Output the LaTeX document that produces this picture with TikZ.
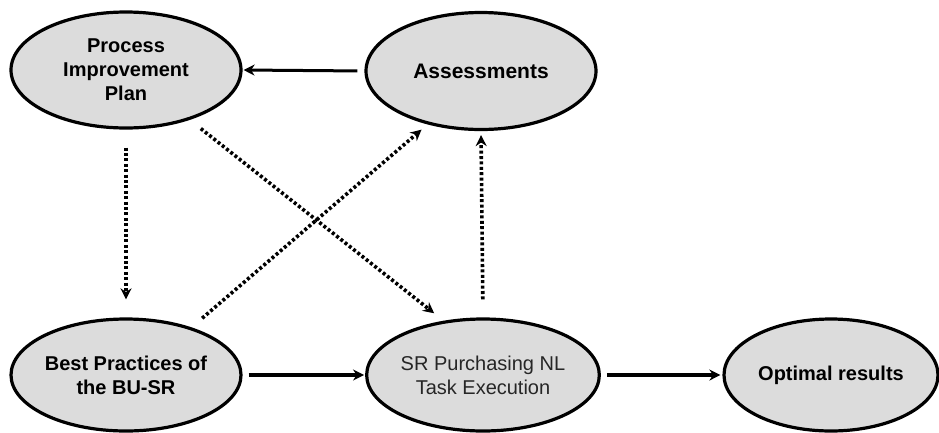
\documentclass[tikz,border=0pt]{standalone}
\usepackage{fontspec}
\setmainfont{Liberation Sans}
\usetikzlibrary{shapes.geometric,arrows.meta}
\definecolor{ovalfill}{HTML}{DCDCDC}
\begin{document}
\begin{tikzpicture}[x=1pt,y=-1pt,
  oval/.style={ellipse,draw=black,line width=3.2pt,fill=ovalfill,
    inner sep=0pt,align=center,font=\fontsize{20}{24}\selectfont\bfseries},
  flow/.style={line width=3.6pt,-{Stealth[length=11pt,width=11pt]}},
  hint/.style={line width=3.6pt,dash pattern=on 3pt off 2.4pt,
    -{Stealth[length=11pt,width=11pt]}}]
\useasboundingbox (0,0) rectangle (939,432);

\node[oval,minimum width=230pt,minimum height=116pt] (pip) at (126,70)
  {Process\\Improvement\\Plan};
\node[oval,minimum width=230pt,minimum height=117pt,
  font=\fontsize{21}{24}\selectfont\bfseries] (ass) at (481,71)
  {Assessments};
\node[oval,minimum width=230pt,minimum height=112pt] (bp) at (126,375)
  {Best Practices of\\the BU-SR};
\node[oval,minimum width=228pt,minimum height=112pt,
  font=\fontsize{20}{24}\selectfont,text=black!85] (sr) at (483,375)
  {SR Purchasing NL\\Task Execution};
\node[oval,minimum width=214pt,minimum height=112pt] (opt) at (831,375)
  {Optimal results};

% solid flow
\draw[flow,line width=3pt,shorten <=7pt,shorten >=1pt] (ass.west) -- (pip.east);
\draw[flow,shorten <=6pt,shorten >=1pt] (bp.east) -- (sr.west);
\draw[flow,shorten <=6pt,shorten >=2pt] (sr.east) -- (opt.west);

% dotted feedback links
\draw[hint,shorten <=18pt,shorten >=18pt] (pip.south) -- (bp.north);
\draw[hint,shorten <=14pt,shorten >=12pt] (pip.-38) -- (sr.126);
\draw[hint,shorten <=14pt,shorten >=8pt] (bp.36) -- (ass.225);
\draw[hint,shorten <=18pt,shorten >=4pt] (sr.north) -- (ass.south);
\end{tikzpicture}
\end{document}
